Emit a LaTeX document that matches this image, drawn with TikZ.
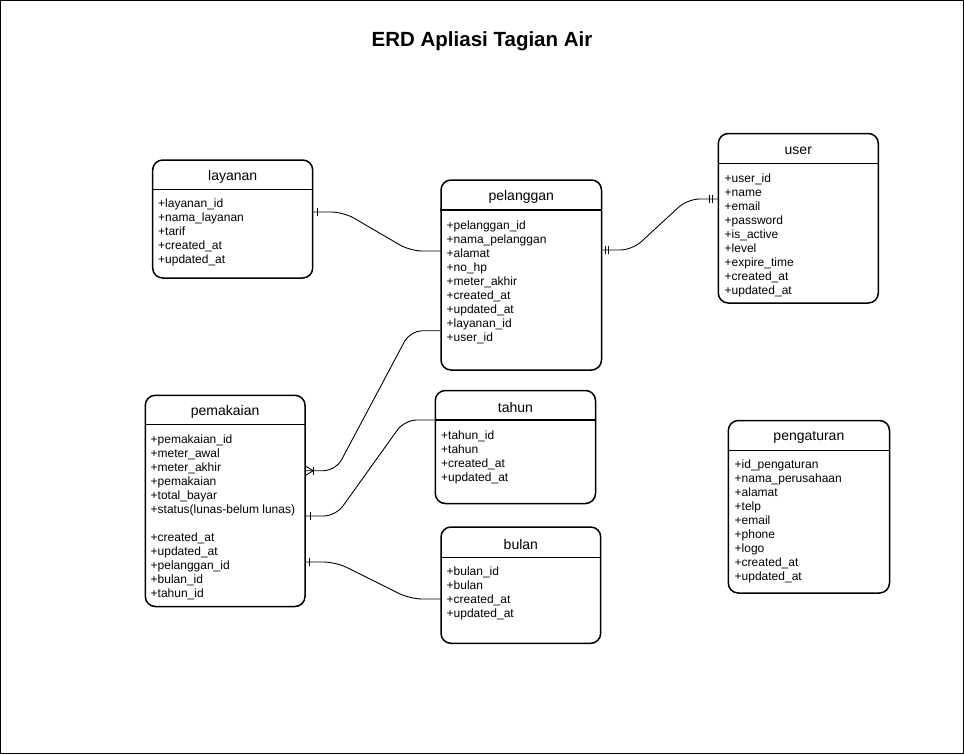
\documentclass[tikz,border=0pt]{standalone}
\usepackage{fontspec}
\setmainfont{Liberation Sans}
\usetikzlibrary{calc}
\newcommand\erbox[7]{% name, x1, y1, x2, y2, header y, title
  \node[entity, minimum width={#4-#2}, minimum height={#5-#3}] (#1) at ({(#2+#4)/2},{(#3+#5)/2}) {};
  \draw[line width=1.5pt] (#1.west |- 0,#6) -- (#1.east |- 0,#6);
  \node[etitle] (#1-title) at ({(#2+#4)/2},{(#3+#6)/2+2}) {#7};
}
\newcommand\erattrs[5]{% prefix, x, first baseline, start index, list
  \foreach \t [count=\i from #4] in {#5} {\node[attr] (#1-\i) at (#2,{#3+1+(\i-#4)*14}) {\t};}
}
\begin{document}
\begin{tikzpicture}[x=1pt,y=-1pt,
  entity/.style={draw, line width=1.5pt, rounded corners=10pt, inner sep=0pt, fill=white},
  etitle/.style={font=\fontsize{14}{16}\selectfont, inner sep=0pt},
  attr/.style={font=\fontsize{12}{14}\selectfont, inner sep=0pt, anchor=base west},
  rel/.style={line width=0.9pt, rounded corners=12pt},
  tick/.style={line width=0.9pt},
]
\useasboundingbox (0,0) rectangle (964,755);
\draw[line width=1.2pt] (0.6,0.6) rectangle (963.2,753.6);
\node[font=\fontsize{20.5}{24}\selectfont\bfseries, inner sep=0pt] (title) at (482,41.5) {ERD Apliasi Tagian Air};

% entities
\erbox{layanan}{152.7}{160}{312.7}{278}{189.5}{layanan}
\erattrs{lay}{158}{206.5}{1}{+layanan\_id,+nama\_layanan,+tarif,+created\_at,+updated\_at}

\erbox{pelanggan}{441}{180}{601.5}{370}{210}{pelanggan}
\erattrs{pel}{446.5}{228.3}{1}{+pelanggan\_id,+nama\_pelanggan,+alamat,+no\_hp,+meter\_akhir,+created\_at,+updated\_at,+layanan\_id,+user\_id}

\erbox{user}{718.3}{133.5}{878.3}{303}{163.5}{user}
\erattrs{usr}{724.5}{181.7}{1}{+user\_id,+name,+email,+password,+is\_active,+level,+expire\_time,+created\_at,+updated\_at}

\erbox{pengaturan}{728.3}{420.5}{889.5}{593}{450.7}{pengaturan}
\erattrs{peng}{734.5}{467.5}{1}{+id\_pengaturan,+nama\_perusahaan,+alamat,+telp,+email,+phone,+logo,+created\_at,+updated\_at}

\erbox{tahun}{435.3}{390.5}{595.5}{503.5}{420}{tahun}
\erattrs{thn}{441}{438.3}{1}{+tahun\_id,+tahun,+created\_at,+updated\_at}

\erbox{bulan}{441}{527}{600.7}{643.3}{557.7}{bulan}
\erattrs{bln}{446.5}{574}{1}{+bulan\_id,+bulan,+created\_at,+updated\_at}

\erbox{pemakaian}{145.3}{395.3}{305}{606.5}{424.3}{pemakaian}
\erattrs{pem}{150.5}{442.8}{1}{+pemakaian\_id,+meter\_awal,+meter\_akhir,+pemakaian,+total\_bayar,+status(lunas-belum lunas)}
\erattrs{pem}{150.5}{540.8}{7}{+created\_at,+updated\_at,+pelanggan\_id,+bulan\_id,+tahun\_id}

% relation layanan -- pelanggan
\coordinate (r1a) at (layanan.east |- 0,212);
\coordinate (r1b) at (pelanggan.west |- 0,251);
\draw[rel] (r1a) -- ++(30,0) -- ($(r1b)+(-30,0)$) -- (r1b);
\draw[tick] ($(r1a)+(3.5,-4)$) -- ($(r1a)+(3.5,4)$);

% relation pelanggan -- user
\coordinate (r2a) at (pelanggan.east |- 0,250);
\coordinate (r2b) at (user.west |- 0,199);
\draw[rel] (r2a) -- ++(30,0) -- ($(r2b)+(-30,0)$) -- (r2b);
\draw[tick] ($(r2a)+(3,-4)$) -- ($(r2a)+(3,4)$);
\draw[tick] ($(r2a)+(6.5,-4)$) -- ($(r2a)+(6.5,4)$);
\draw[tick] ($(r2b)+(-5,-4)$) -- ($(r2b)+(-5,4)$);
\draw[tick] ($(r2b)+(-8.5,-4)$) -- ($(r2b)+(-8.5,4)$);

% relation pemakaian -- pelanggan (many)
\coordinate (r3a) at (pemakaian.east |- 0,470.7);
\coordinate (r3b) at (pelanggan.west |- 0,330.7);
\draw[rel] (r3b) -- ++(-30,0) -- ($(r3a)+(30,0)$) -- (r3a);
\draw[tick] ($(r3a)+(0,-4.5)$) -- ($(r3a)+(7.5,0)$) -- ($(r3a)+(0,4.5)$);
\draw[tick] ($(r3a)+(7.5,-4)$) -- ($(r3a)+(7.5,4)$);

% relation pemakaian -- tahun
\coordinate (r4a) at (pemakaian.east |- 0,516);
\coordinate (r4b) at (tahun.west |- 0,420);
\draw[rel] (r4b) -- ++(-30,0) -- ($(r4a)+(30,0)$) -- (r4a);
\draw[tick] ($(r4a)+(4.5,-4)$) -- ($(r4a)+(4.5,4)$);

% relation pemakaian -- bulan
\coordinate (r5a) at (pemakaian.east |- 0,562);
\coordinate (r5b) at (bulan.west |- 0,599);
\draw[rel] (r5a) -- ++(30,0) -- ($(r5b)+(-30,0)$) -- (r5b);
\draw[tick] ($(r5a)+(3.5,-4)$) -- ($(r5a)+(3.5,4)$);
\end{tikzpicture}
\end{document}
